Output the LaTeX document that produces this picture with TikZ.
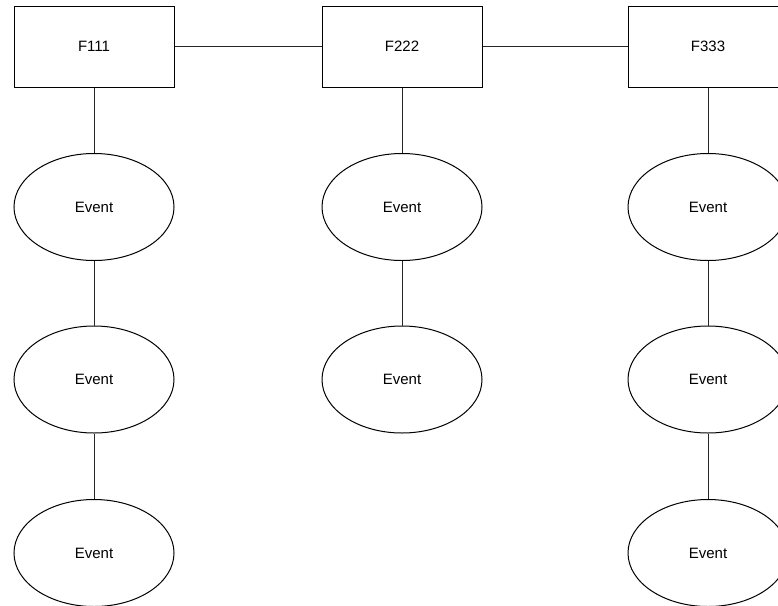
\documentclass[tikz,border=0pt]{standalone}
\usepackage{fontspec}
\setmainfont{Liberation Sans}
\usetikzlibrary{shapes.geometric}
\begin{document}
\begin{tikzpicture}[x=1pt,y=-1pt,
  every node/.style={font=\fontsize{15}{18}\selectfont},
  fbox/.style={draw=black,line width=1pt,minimum width=160pt,minimum height=81pt,inner sep=0pt,rectangle},
  ev/.style={draw=black,line width=1pt,ellipse,minimum width=160pt,minimum height=107pt,inner sep=0pt},
  conn/.style={draw=black!85,line width=1pt}]
\useasboundingbox (0,0) rectangle (778,605);
\clip (0,0) rectangle (778,605);
\fill[white] (0,0) rectangle (778,605);
\node[fbox] (f1) at (94,46.5) {F111};
\node[fbox] (f2) at (402,46.5) {F222};
\node[fbox] (f3) at (708,46.5) {F333};
\node[ev] (e11) at (94,207) {Event};
\node[ev] (e12) at (94,379.5) {Event};
\node[ev] (e13) at (94,553) {Event};
\node[ev] (e21) at (402,207) {Event};
\node[ev] (e22) at (402,379.5) {Event};
\node[ev] (e31) at (708,207) {Event};
\node[ev] (e32) at (708,379.5) {Event};
\node[ev] (e33) at (708,553) {Event};
\draw[conn] (f1) -- (f2);
\draw[conn] (f2) -- (f3);
\draw[conn] (f1) -- (e11);
\draw[conn] (e11) -- (e12);
\draw[conn] (e12) -- (e13);
\draw[conn] (f2) -- (e21);
\draw[conn] (e21) -- (e22);
\draw[conn] (f3) -- (e31);
\draw[conn] (e31) -- (e32);
\draw[conn] (e32) -- (e33);
\end{tikzpicture}
\end{document}
